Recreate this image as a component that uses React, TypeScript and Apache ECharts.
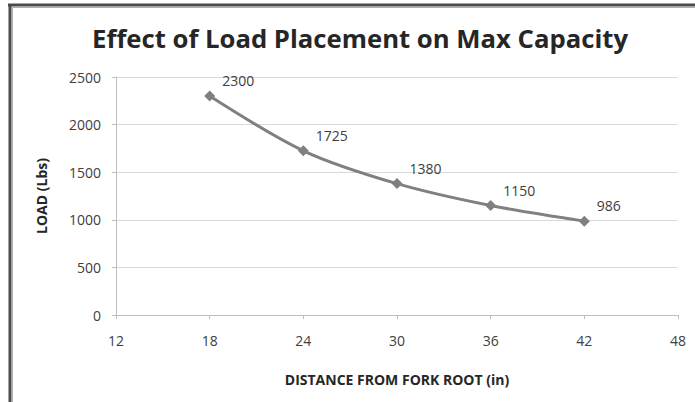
import React, { useEffect, useRef } from "react";
import * as echarts from "echarts";

const distances = [18, 24, 30, 36, 42];
const loads = [2300, 1725, 1380, 1150, 986];
const xTicks = [12, 18, 24, 30, 36, 42, 48];
const yTicks = [0, 500, 1000, 1500, 2000, 2500];
const titleText = "Effect of Load Placement on Max Capacity";
const xName = "DISTANCE FROM FORK ROOT (in)";
const yName = "LOAD (Lbs)";

const FONT = "'Open Sans', 'Liberation Sans', sans-serif";

export default function App() {
  const ref = useRef<HTMLDivElement>(null);
  useEffect(() => {
    if (!ref.current) return;
    const chart = echarts.init(ref.current, undefined, { renderer: "svg" });
    chart.setOption({
      animation: false,
      backgroundColor: "#ffffff",
      textStyle: { fontFamily: FONT },
      title: {
        text: titleText,
        left: 87,
        top: 20,
        textStyle: { fontFamily: FONT, fontSize: 25.7, fontWeight: "bold", color: "#262626" },
      },
      graphic: [
        { type: "line", shape: { x1: 8, y1: 5, x2: 695, y2: 5 }, style: { stroke: "#4a4a4a", lineWidth: 3 } },
        { type: "line", shape: { x1: 10, y1: 4, x2: 10, y2: 402 }, style: { stroke: "#4a4a4a", lineWidth: 3 } },
        { type: "line", shape: { x1: 12.5, y1: 7, x2: 12.5, y2: 402 }, style: { stroke: "#b0b0b0", lineWidth: 1 } },
        { type: "line", shape: { x1: 12, y1: 7.5, x2: 695, y2: 7.5 }, style: { stroke: "#b0b0b0", lineWidth: 1 } },
      ],
      grid: { left: 116, right: 17, top: 77, bottom: 87 },
      xAxis: {
        type: "value",
        min: xTicks[0],
        max: xTicks[xTicks.length - 1],
        interval: 6,
        name: xName,
        nameLocation: "middle",
        nameGap: 57,
        nameTextStyle: { fontFamily: FONT, fontSize: 14, fontWeight: "bold", color: "#262626" },
        axisLine: { show: true, lineStyle: { color: "#bfbfbf" } },
        axisTick: { show: true, inside: false, length: 4, lineStyle: { color: "#bfbfbf" } },
        axisLabel: { fontFamily: FONT, fontSize: 14, color: "#404040", margin: 18 },
        splitLine: { show: false },
      },
      yAxis: {
        type: "value",
        min: yTicks[0],
        max: yTicks[yTicks.length - 1],
        interval: 500,
        name: yName,
        nameLocation: "middle",
        nameGap: 68,
        nameRotate: 90,
        nameTextStyle: { fontFamily: FONT, fontSize: 14, fontWeight: "bold", color: "#262626" },
        axisLine: { show: true, lineStyle: { color: "#bfbfbf" } },
        axisTick: { show: true, length: 4, lineStyle: { color: "#bfbfbf" } },
        axisLabel: {
          fontFamily: FONT,
          fontSize: 14,
          color: "#404040",
          margin: 15,
          formatter: (v: number) => String(v),
        },
        splitLine: { show: true, lineStyle: { color: "#d9d9d9", width: 1 } },
      },
      series: [
        {
          type: "line",
          data: distances.map((d, i) => [d, loads[i]]),
          smooth: 0.3,
          symbol: "diamond",
          symbolSize: 11,
          lineStyle: { color: "#808080", width: 3 },
          itemStyle: { color: "#808080" },
          label: {
            show: true,
            position: [18, -10],
            align: "left",
            verticalAlign: "middle",
            fontFamily: FONT,
            fontSize: 14,
            color: "#404040",
          },
        },
      ],
    });
    return () => chart.dispose();
  }, []);
  return (
    <div
      ref={ref}
      style={{ position: "fixed", left: 0, top: 0, width: 695, height: 402 }}
    />
  );
}
